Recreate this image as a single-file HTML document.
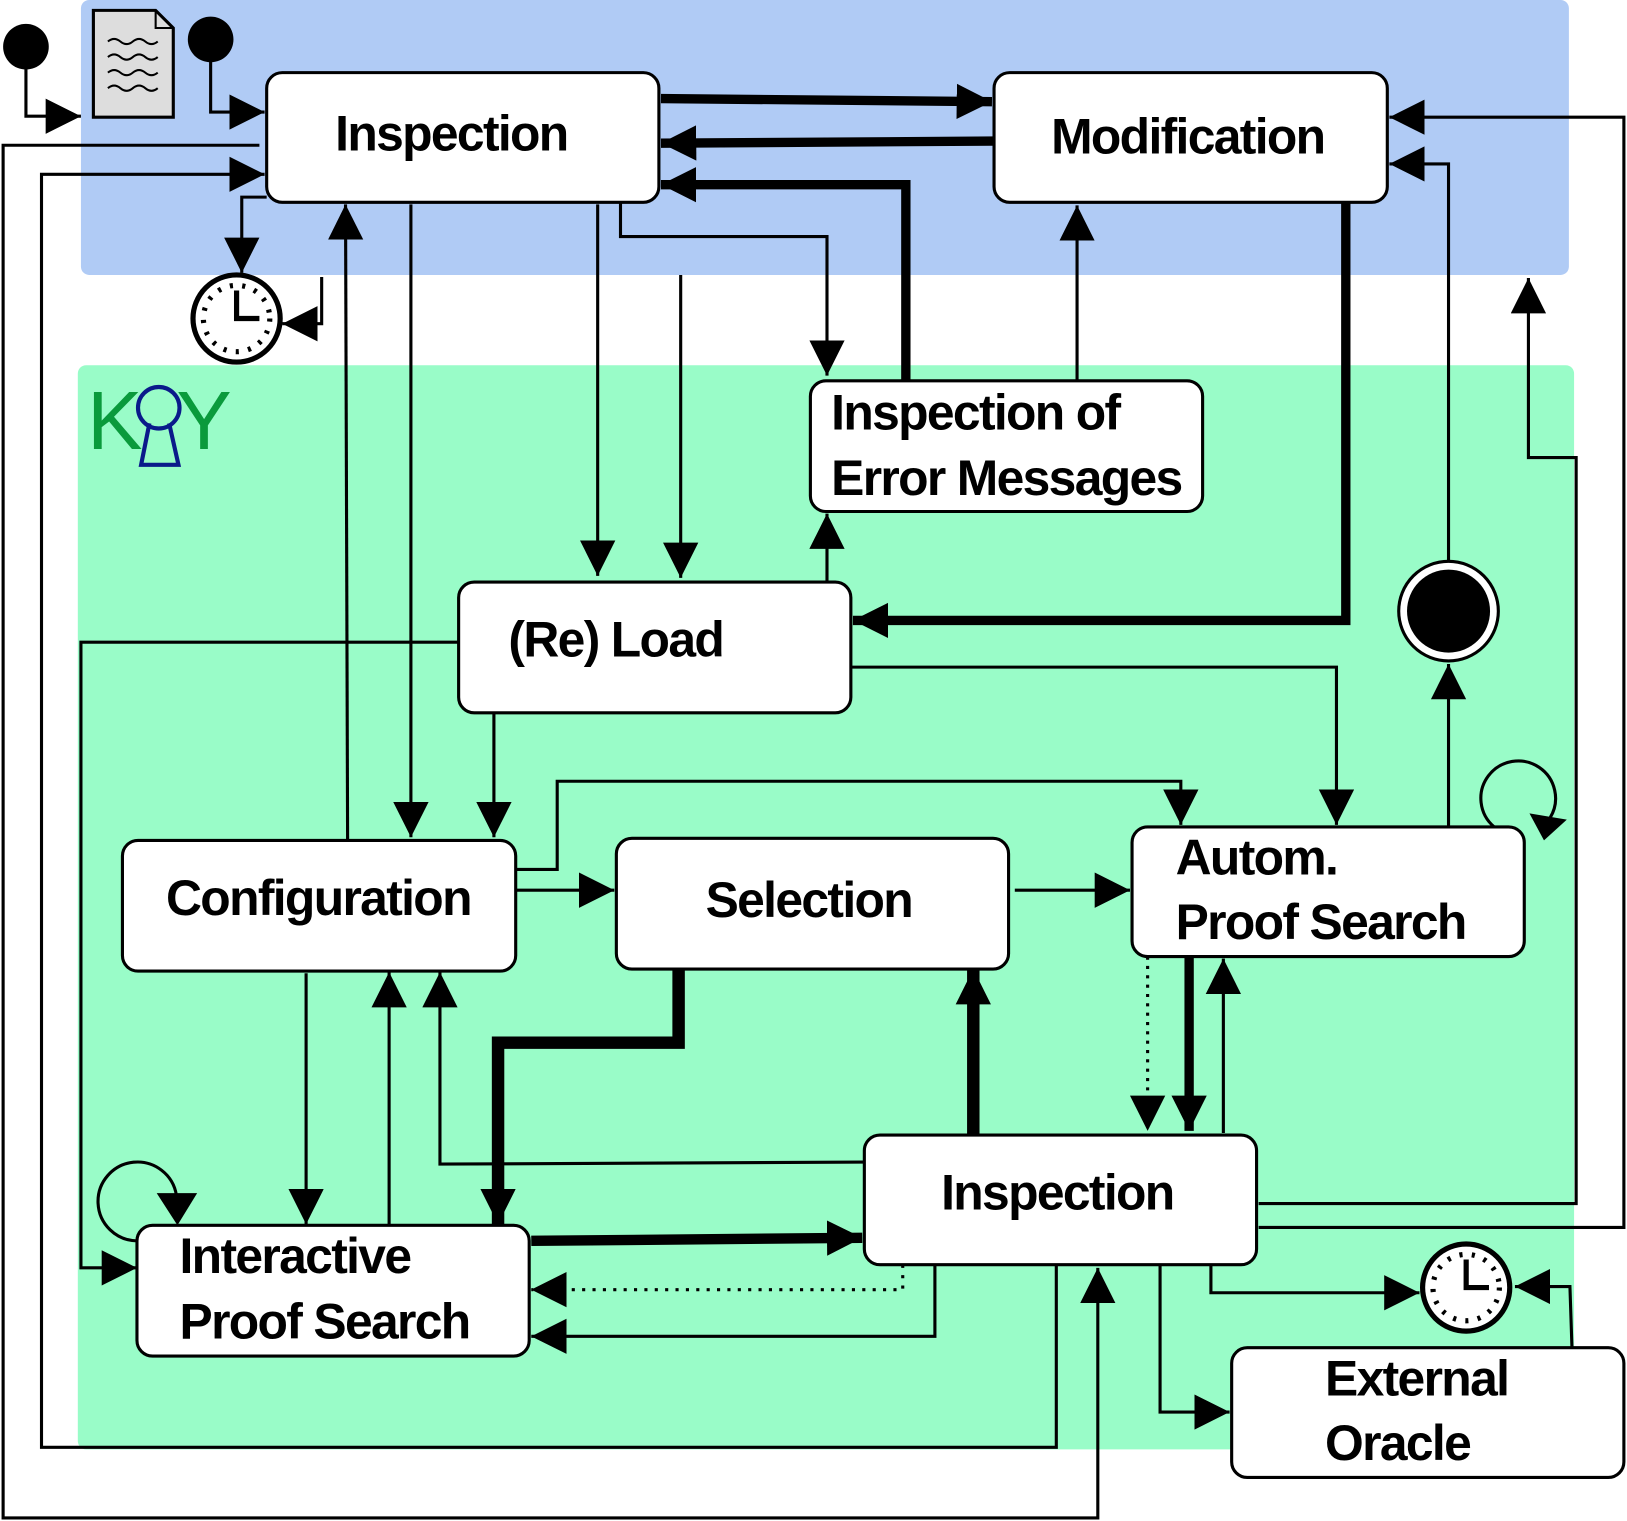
<!DOCTYPE html>
<html><head><meta charset="utf-8"><style>
html,body{margin:0;padding:0;background:#fff;}
svg{display:block;}
text{font-family:"Liberation Sans",Arial,sans-serif;font-size:48px;font-weight:bold;letter-spacing:-1.6px;fill:#000;}
</style></head><body>
<svg width="1627" height="1521" viewBox="0 0 1568 1466" preserveAspectRatio="none" xmlns="http://www.w3.org/2000/svg">
<defs>
<marker id="a" markerUnits="userSpaceOnUse" markerWidth="36" markerHeight="36" refX="34" refY="17" orient="auto">
<path d="M0,0 L34,17 L0,34 z" fill="#000"/></marker>
</defs>
<rect x="78" y="0" width="1434" height="265" rx="8" fill="#b0cbf5"/>
<rect x="75" y="352" width="1442" height="1045" rx="8" fill="#99fcc8"/>

<!-- KeY logo -->
<text x="84" y="433" style="font-size:80px;font-weight:normal;letter-spacing:0;fill:#0a9a3c">K</text>
<text x="170" y="433" style="font-size:80px;font-weight:normal;letter-spacing:0;fill:#0a9a3c">Y</text>
<circle cx="153" cy="393" r="20" fill="none" stroke="#0a1a8a" stroke-width="4"/>
<path d="M144,408 L136,448 L172,448 L163,408" fill="none" stroke="#0a1a8a" stroke-width="4"/>

<g fill="none" stroke="#000" stroke-width="3">
<polyline points="25,45 25,112 78,112" marker-end="url(#a)"/>
<polyline points="203,38 203,108 255,108" marker-end="url(#a)"/>
<polyline points="637,95 956,98" stroke-width="9" marker-end="url(#a)"/>
<polyline points="958,136 637,138" stroke-width="9" marker-end="url(#a)"/>
<polyline points="873,367 873,178 637,178" stroke-width="9" marker-end="url(#a)"/>
<polyline points="257,190 233,190 233,263" marker-end="url(#a)"/>
<polyline points="310,267 310,312 272,312" marker-end="url(#a)"/>
<polyline points="598,195 598,228 797,228 797,362" marker-end="url(#a)"/>
<polyline points="576,197 576,555" marker-end="url(#a)"/>
<polyline points="656,265 656,557" marker-end="url(#a)"/>
<polyline points="396,197 396,807" marker-end="url(#a)"/>
<polyline points="335,810 333,197" marker-end="url(#a)"/>
<polyline points="1038,367 1038,198" marker-end="url(#a)"/>
<polyline points="1297,195 1297,598 822,598" stroke-width="9" marker-end="url(#a)"/>
<polyline points="797,561 797,495" marker-end="url(#a)"/>
<polyline points="250,140 3,140 3,1463 1058,1463 1058,1222" marker-end="url(#a)"/>
<polyline points="1018,1219 1018,1395 40,1395 40,168 255,168" marker-end="url(#a)"/>
<polyline points="442,619 78,619 78,1222 132,1222" marker-end="url(#a)"/>
<polyline points="820,643 1288,643 1288,795" marker-end="url(#a)"/>
<polyline points="476,687 476,807" marker-end="url(#a)"/>
<polyline points="497,838 537,838 537,753 1138,753 1138,795" marker-end="url(#a)"/>
<polyline points="497,858 592,858" marker-end="url(#a)"/>
<polyline points="978,858 1089,858" marker-end="url(#a)"/>
<polyline points="1396,797 1396,640" marker-end="url(#a)"/>
<path d="M1440,797 A36,36 0 1 1 1494,788"/>
<polyline points="1213,1183 1565,1183 1565,113 1339,113" marker-end="url(#a)"/>
<polyline points="1213,1160 1519,1160 1519,441 1473,441 1473,268" marker-end="url(#a)"/>
<polyline points="1396,541 1396,158 1339,158" marker-end="url(#a)"/>
<polyline points="1106,922 1106,1090" stroke-dasharray="3,6" marker-end="url(#a)"/>
<polyline points="1146,922 1146,1090" stroke-width="9" marker-end="url(#a)"/>
<polyline points="1179,1092 1179,924" marker-end="url(#a)"/>
<polyline points="938,1094 938,934" stroke-width="12" marker-end="url(#a)"/>
<polyline points="654,934 654,1005 480,1005 480,1180" stroke-width="12" marker-end="url(#a)"/>
<polyline points="512,1196 831,1193" stroke-width="10" marker-end="url(#a)"/>
<polyline points="870,1219 870,1243 512,1243" stroke-dasharray="3,7" marker-end="url(#a)"/>
<polyline points="901,1219 901,1288 512,1288" marker-end="url(#a)"/>
<polyline points="833,1120 424,1122 424,937" marker-end="url(#a)"/>
<polyline points="375,1181 375,937" marker-end="url(#a)"/>
<polyline points="295,938 295,1180" marker-end="url(#a)"/>
<path d="M132,1196 A38,38 0 1 1 170,1152"/>
<polyline points="1167,1219 1167,1246 1368,1246" marker-end="url(#a)"/>
<polyline points="1118,1219 1118,1361 1185,1361" marker-end="url(#a)"/>
<polyline points="1515,1300 1513,1240 1460,1240" marker-end="url(#a)"/>
</g>
<polygon points="151,1150 190,1150 171,1181" fill="#000"/>
<polygon points="1474,784 1510,790 1488,810" fill="#000"/>

<circle cx="25" cy="45" r="22" fill="#000"/>
<circle cx="203" cy="38" r="22" fill="#000"/>
<path d="M90,10 L150,10 L167,27 L167,113 L90,113 z" fill="#ddd" stroke="#000" stroke-width="3"/>
<path d="M150,10 L150,27 L167,27" fill="none" stroke="#000" stroke-width="2"/>
<g fill="none" stroke="#000" stroke-width="2">
<path d="M104,40 q6,-5 12,0 t12,0 t12,0 t12,0"/>
<path d="M104,55 q6,-5 12,0 t12,0 t12,0 t12,0"/>
<path d="M104,70 q6,-5 12,0 t12,0 t12,0 t12,0"/>
<path d="M104,85 q6,-5 12,0 t12,0 t12,0 t12,0"/>
</g>
<g fill="none" stroke="#000">
<circle cx="228" cy="307" r="42" fill="#fff" stroke-width="5"/>
<circle cx="228" cy="307" r="32" stroke-width="5" stroke-dasharray="3,9"/>
<polyline points="228,280 228,307 250,307" stroke-width="5"/>
<circle cx="1413" cy="1241" r="42" fill="#fff" stroke-width="5"/>
<circle cx="1413" cy="1241" r="32" stroke-width="5" stroke-dasharray="3,9"/>
<polyline points="1413,1214 1413,1241 1435,1241" stroke-width="5"/>
</g>
<circle cx="1396" cy="589" r="48" fill="#fff" stroke="#000" stroke-width="3"/>
<circle cx="1396" cy="589" r="40" fill="#000"/>

<g fill="#fff" stroke="#000" stroke-width="3">
<rect x="257" y="70" width="378" height="125" rx="15"/>
<rect x="958" y="70" width="379" height="125" rx="15"/>
<rect x="781" y="367" width="378" height="126" rx="15"/>
<rect x="442" y="561" width="378" height="126" rx="15"/>
<rect x="118" y="810" width="379" height="126" rx="15"/>
<rect x="594" y="808" width="378" height="126" rx="15"/>
<rect x="1091" y="797" width="378" height="125" rx="15"/>
<rect x="833" y="1094" width="378" height="125" rx="15"/>
<rect x="132" y="1181" width="378" height="126" rx="15"/>
<rect x="1187" y="1299" width="378" height="125" rx="15"/>
</g>
<text x="323" y="145">Inspection</text>
<text x="1013" y="148">Modification</text>
<text x="801" y="414">Inspection of</text>
<text x="801" y="477">Error Messages</text>
<text x="490" y="633">(Re) Load</text>
<text x="160" y="882">Configuration</text>
<text x="680" y="884">Selection</text>
<text x="1133" y="843">Autom.</text>
<text x="1133" y="905">Proof Search</text>
<text x="907" y="1166">Inspection</text>
<text x="173" y="1227">Interactive</text>
<text x="173" y="1290">Proof Search</text>
<text x="1277" y="1345">External</text>
<text x="1277" y="1407">Oracle</text>
</svg>
</body></html>
